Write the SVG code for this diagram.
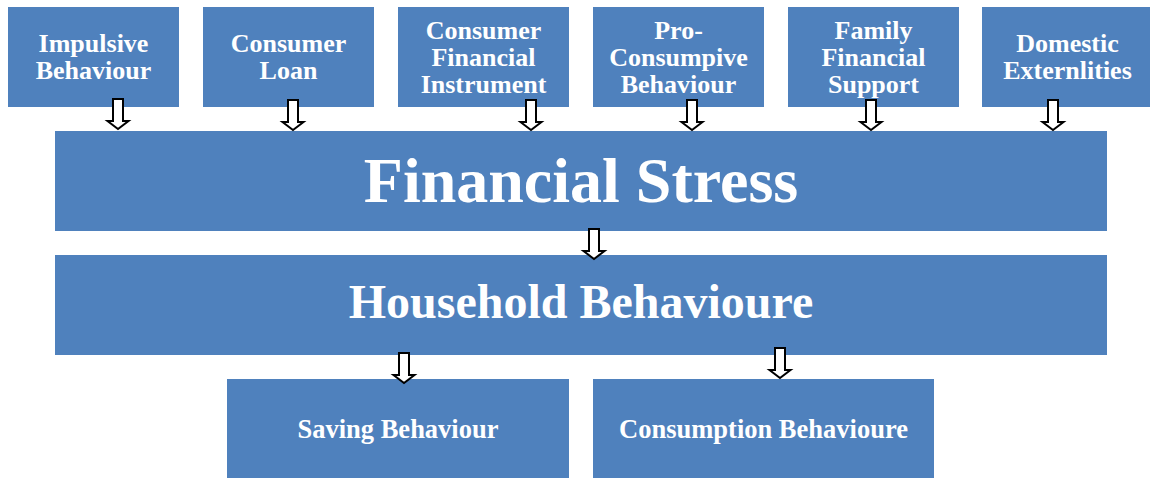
<svg xmlns="http://www.w3.org/2000/svg" width="1150" height="478" viewBox="0 0 1150 478">
  <defs>
    <style>
      .box { fill: #4F81BD; }
      .t { font-family: "Liberation Serif", "Times New Roman", serif; font-weight: bold; fill: #FFFFFF; text-anchor: middle; }
      .s26 { font-size: 26px; }
      .s27 { font-size: 26.5px; }
      .arrow { fill: #FFFFFF; stroke: #000000; stroke-width: 2; stroke-linejoin: miter; }
    </style>
    <!-- hollow block arrow pointing down, origin at top centre, 30px tall -->
    <path id="downArrow" class="arrow" d="M -5 0 L 5 0 L 5 22 L 10.5 22 L 0 30 L -10.5 22 L -5 22 Z"/>
  </defs>

  <rect width="1150" height="478" fill="#FFFFFF"/>

  <!-- top row of factors -->
  <g id="impulsive-behaviour">
    <rect class="box" x="8" y="7" width="171" height="100"/>
    <text class="t s26" x="93.5" y="52">Impulsive</text>
    <text class="t s26" x="93.5" y="79">Behaviour</text>
  </g>
  <g id="consumer-loan">
    <rect class="box" x="203" y="7" width="171" height="100"/>
    <text class="t s26" x="288.5" y="52">Consumer</text>
    <text class="t s26" x="288.5" y="79">Loan</text>
  </g>
  <g id="consumer-financial-instrument">
    <rect class="box" x="398" y="7" width="171" height="100"/>
    <text class="t s26" x="483.5" y="39">Consumer</text>
    <text class="t s26" x="483.5" y="66">Financial</text>
    <text class="t s26" x="483.5" y="93">Instrument</text>
  </g>
  <g id="pro-consumpive-behaviour">
    <rect class="box" x="593" y="7" width="171" height="100"/>
    <text class="t s26" x="678.5" y="39">Pro-</text>
    <text class="t s26" x="678.5" y="66">Consumpive</text>
    <text class="t s26" x="678.5" y="93">Behaviour</text>
  </g>
  <g id="family-financial-support">
    <rect class="box" x="788" y="7" width="171" height="100"/>
    <text class="t s26" x="873.5" y="39">Family</text>
    <text class="t s26" x="873.5" y="66">Financial</text>
    <text class="t s26" x="873.5" y="93">Support</text>
  </g>
  <g id="domestic-externlities">
    <rect class="box" x="982" y="7" width="171" height="100"/>
    <text class="t s26" x="1067.5" y="52">Domestic</text>
    <text class="t s26" x="1067.5" y="79">Externlities</text>
  </g>

  <!-- central blocks -->
  <g id="financial-stress">
    <rect class="box" x="55" y="131" width="1052" height="100"/>
    <text class="t" x="581" y="202" font-size="64">Financial Stress</text>
  </g>
  <g id="household-behavioure">
    <rect class="box" x="55" y="255" width="1052" height="100"/>
    <text class="t" x="581" y="318" font-size="48">Household Behavioure</text>
  </g>

  <!-- outcomes -->
  <g id="saving-behaviour">
    <rect class="box" x="227" y="379" width="342" height="99"/>
    <text class="t s27" x="398" y="438">Saving Behaviour</text>
  </g>
  <g id="consumption-behavioure">
    <rect class="box" x="593" y="379" width="341" height="99"/>
    <text class="t s27" x="763.5" y="438">Consumption Behavioure</text>
  </g>

  <!-- connectors -->
  <g id="connectors">
    <use href="#downArrow" x="118" y="99"/>
    <use href="#downArrow" x="293" y="100"/>
    <use href="#downArrow" x="531" y="100"/>
    <use href="#downArrow" x="692" y="100"/>
    <use href="#downArrow" x="871" y="100"/>
    <use href="#downArrow" x="1053" y="100"/>
    <use href="#downArrow" x="594" y="229"/>
    <use href="#downArrow" x="404" y="353"/>
    <use href="#downArrow" x="780" y="348"/>
  </g>
</svg>
